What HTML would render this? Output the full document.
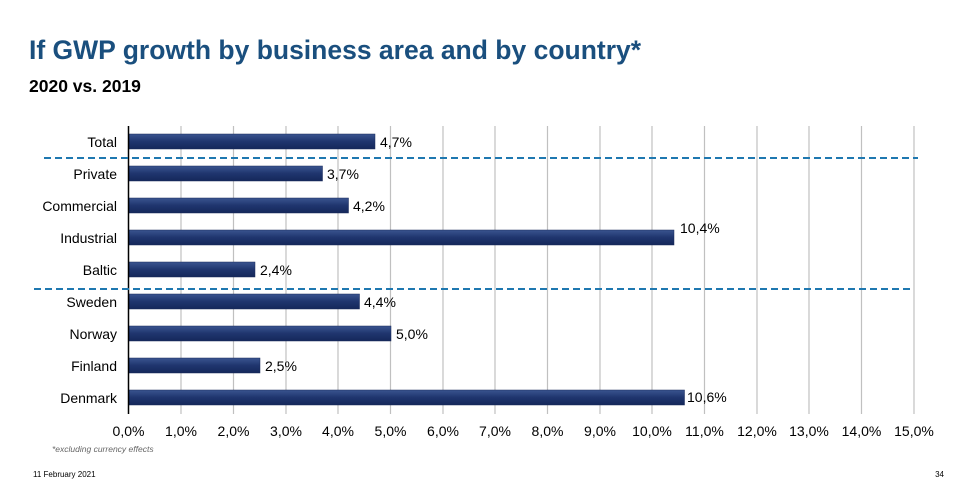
<!DOCTYPE html>
<html><head><meta charset="utf-8"><style>
body{margin:0;width:970px;height:495px;background:#fff;overflow:hidden;font-family:"Liberation Sans",Arial,sans-serif}
</style></head><body>
<svg width="970" height="495" xmlns="http://www.w3.org/2000/svg" font-family="Liberation Sans, Arial, sans-serif">
<defs><linearGradient id="g" x1="0" y1="0" x2="0" y2="1">
<stop offset="0" stop-color="#3a5590"/><stop offset="0.5" stop-color="#1f356e"/><stop offset="1" stop-color="#15285a"/></linearGradient></defs>
<text x="29" y="59" font-size="26.5" font-weight="bold" fill="#1a4f7e">If GWP growth by business area and by country*</text>
<text x="29" y="92" font-size="17.5" font-weight="bold" fill="#000">2020 vs. 2019</text>
<g stroke="#c0c0c0" stroke-width="1.2">
<line x1="181" y1="126" x2="181" y2="414"/><line x1="233.5" y1="126" x2="233.5" y2="414"/><line x1="286" y1="126" x2="286" y2="414"/><line x1="338" y1="126" x2="338" y2="414"/><line x1="390.5" y1="126" x2="390.5" y2="414"/><line x1="443" y1="126" x2="443" y2="414"/><line x1="495" y1="126" x2="495" y2="414"/><line x1="547.5" y1="126" x2="547.5" y2="414"/><line x1="600" y1="126" x2="600" y2="414"/><line x1="652" y1="126" x2="652" y2="414"/><line x1="704.5" y1="126" x2="704.5" y2="414"/><line x1="757" y1="126" x2="757" y2="414"/><line x1="809" y1="126" x2="809" y2="414"/><line x1="861.5" y1="126" x2="861.5" y2="414"/><line x1="914" y1="126" x2="914" y2="414"/>
</g>
<g fill="url(#g)" stroke="#1a2a5a" stroke-width="0.5">
<rect x="129" y="134" width="246" height="15"/>
<rect x="129" y="166" width="193.5" height="15"/>
<rect x="129" y="198" width="219.5" height="15"/>
<rect x="129" y="230" width="545" height="15"/>
<rect x="129" y="262" width="126" height="15"/>
<rect x="129" y="294" width="230.5" height="15"/>
<rect x="129" y="326" width="262" height="15"/>
<rect x="129" y="358" width="131" height="15"/>
<rect x="129" y="390" width="555.5" height="15"/>
</g>
<line x1="128.5" y1="126" x2="128.5" y2="414" stroke="#000" stroke-width="1.5"/>
<g stroke="#1f78b0" stroke-width="2" stroke-dasharray="7,4">
<line x1="44" y1="158" x2="918" y2="158"/><line x1="34" y1="289" x2="910" y2="289"/>
</g>
<g font-size="14" fill="#000" text-anchor="end">
<text x="117" y="147">Total</text><text x="117" y="179">Private</text><text x="117" y="211">Commercial</text><text x="117" y="243">Industrial</text><text x="117" y="275">Baltic</text><text x="117" y="307">Sweden</text><text x="117" y="339">Norway</text><text x="117" y="371">Finland</text><text x="117" y="403">Denmark</text>
</g>
<g font-size="14" fill="#000">
<text x="380" y="147">4,7%</text><text x="327" y="179">3,7%</text><text x="353" y="211">4,2%</text><text x="680" y="233">10,4%</text><text x="260" y="275">2,4%</text><text x="364" y="307">4,4%</text><text x="396" y="339">5,0%</text><text x="265" y="371">2,5%</text><text x="687" y="402">10,6%</text>
</g>
<g font-size="14" fill="#000" text-anchor="middle">
<text x="128.5" y="436">0,0%</text><text x="181" y="436">1,0%</text><text x="233.5" y="436">2,0%</text><text x="286" y="436">3,0%</text><text x="338" y="436">4,0%</text><text x="390.5" y="436">5,0%</text><text x="443" y="436">6,0%</text><text x="495" y="436">7,0%</text><text x="547.5" y="436">8,0%</text><text x="600" y="436">9,0%</text><text x="652" y="436">10,0%</text><text x="704.5" y="436">11,0%</text><text x="757" y="436">12,0%</text><text x="809" y="436">13,0%</text><text x="861.5" y="436">14,0%</text><text x="914" y="436">15,0%</text>
</g>
<text x="52" y="452" font-size="8.5" font-style="italic" fill="#666">*excluding currency effects</text>
<text x="33" y="477" font-size="8" fill="#000">11 February 2021</text>
<text x="944" y="477" font-size="8" fill="#000" text-anchor="end">34</text>
</svg>
</body></html>
